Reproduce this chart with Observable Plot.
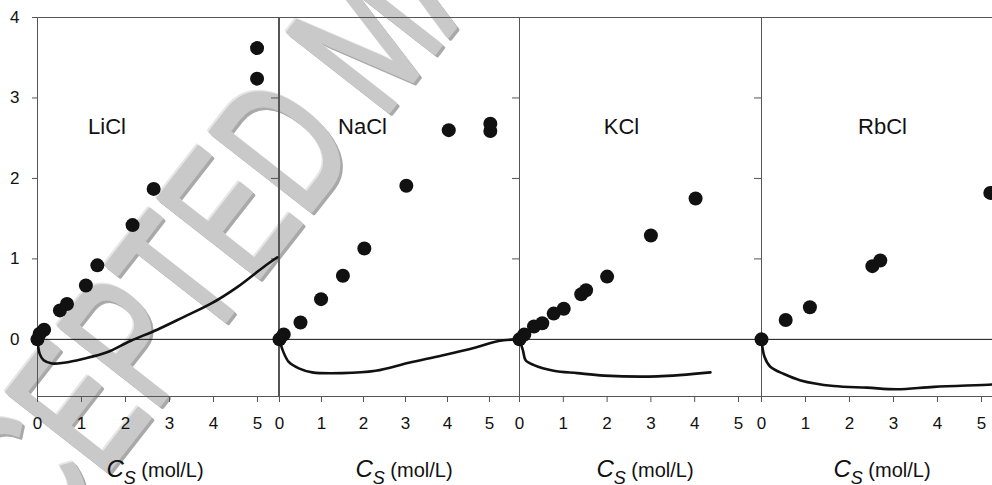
<!DOCTYPE html>
<html><head><meta charset="utf-8">
<script src="https://cdn.jsdelivr.net/npm/d3@7"></script>
<script src="https://cdn.jsdelivr.net/npm/@observablehq/plot@0.6"></script>
<style>
html,body{margin:0;padding:0;background:#fff;}
#root{position:relative;width:992px;height:485px;overflow:hidden;font-family:"Liberation Sans",Arial,sans-serif;}
#root > svg{position:absolute;top:0;}
</style></head><body><div id="root"></div>
<script>
// ---- data ----
const salts = ["LiCl", "NaCl", "KCl", "RbCl"];
const xTickValues = [0, 1, 2, 3, 4, 5];
const yTickValues = [0, 1, 2, 3, 4];
const rightTickValues = [1, 2, 3];
const axisLabelMain = "C";
const axisLabelSub = "S";
const axisLabelUnit = " (mol/L)";
const watermark = "ACCEPTED MANUSCRIPT";

const liclX = [0, 0.05, 0.15, 0.51, 0.67, 1.1, 1.36, 2.16, 2.64, 4.99, 4.99];
const liclY = [0, 0.07, 0.12, 0.36, 0.44, 0.67, 0.92, 1.42, 1.87, 3.24, 3.62];
const liclCurveX = [0, 0.05, 0.14, 0.33, 0.6, 1.05, 1.58, 2.11, 2.72, 3.33, 3.93, 4.54, 5.14, 5.45];
const liclCurveY = [0, -0.18, -0.26, -0.30, -0.29, -0.24, -0.16, -0.02, 0.12, 0.28, 0.44, 0.65, 0.90, 1.02];

const naclX = [0, 0.1, 0.5, 0.99, 1.51, 2.02, 3.02, 4.03, 5.02, 5.02];
const naclY = [0, 0.06, 0.21, 0.5, 0.79, 1.13, 1.91, 2.6, 2.68, 2.59];
const naclCurveX = [0, 0.08, 0.22, 0.46, 0.78, 1.49, 2.29, 3.08, 3.87, 4.67, 5.22, 5.62];
const naclCurveY = [0, -0.14, -0.28, -0.36, -0.41, -0.42, -0.39, -0.29, -0.20, -0.10, -0.02, 0.0];

const kclX = [0, 0.11, 0.33, 0.52, 0.78, 1.01, 1.41, 1.52, 2.0, 3.0, 4.02];
const kclY = [0, 0.06, 0.16, 0.2, 0.32, 0.38, 0.56, 0.61, 0.78, 1.29, 1.75];
const kclCurveX = [0, 0.08, 0.14, 0.33, 0.78, 1.32, 1.93, 3.14, 4.36];
const kclCurveY = [0, -0.14, -0.26, -0.32, -0.39, -0.42, -0.45, -0.46, -0.41];

const rbclX = [0, 0.55, 1.1, 2.52, 2.7, 5.2];
const rbclY = [0, 0.24, 0.4, 0.91, 0.98, 1.82];
const rbclCurveX = [0, 0.07, 0.2, 0.51, 0.89, 1.64, 2.4, 3.08, 3.92, 5.25, 5.5];
const rbclCurveY = [0, -0.22, -0.34, -0.43, -0.51, -0.58, -0.60, -0.62, -0.59, -0.56, -0.55];

const pointsX = [liclX, naclX, kclX, rbclX];
const pointsY = [liclY, naclY, kclY, rbclY];
const curvesX = [liclCurveX, naclCurveX, kclCurveX, rbclCurveX];
const curvesY = [liclCurveY, naclCurveY, kclCurveY, rbclCurveY];

// ---- layout ----
const frameLeft = [37, 279, 519, 761];
const frameRight = [278, 519, 761, 1003];
const pxPerUnit = [44, 42, 43.8, 44];
const titleDx = [-51, -37, -19, 0];
const labelCenter = [155, 404, 645, 882];
const font = '"Liberation Sans", Arial, Helvetica, sans-serif';

const root = d3.select("#root");

// watermark (beneath everything)
const wm = root.append("svg").attr("width", 992).attr("height", 485).style("left", "0px");
[["#a9a9a9", 2.5, 2.5], ["#e6e6e6", -1.5, -1.5], ["#c9c9c9", 0, 0]].forEach(([col, ox, oy]) => {
  wm.append("text")
    .attr("transform", `translate(${-63 + ox},${690 + oy}) rotate(-52) scale(0.68,1)`)
    .attr("font-family", font)
    .attr("font-size", 186)
    .attr("fill", col)
    .attr("stroke", col)
    .attr("stroke-width", 4)
    .attr("stroke-linejoin", "round")
    .text(watermark);
});

salts.forEach((name, i) => {
  const W = frameRight[i] - frameLeft[i];
  const mL = i === 0 ? 37 : 12, mR = 12;
  const pts = pointsX[i].map((x, k) => ({x, y: pointsY[i][k]}));
  const crv = curvesX[i].map((x, k) => ({x, y: curvesY[i][k]}));
  const plot = Plot.plot({
    width: W + mL + mR, height: 485,
    marginLeft: mL, marginRight: mR, marginTop: 17, marginBottom: 89,
    x: {domain: [0, W / pxPerUnit[i]], axis: null},
    y: {domain: [-0.71, 4], axis: null},
    style: {background: "transparent", fontFamily: font, fontSize: "17px", color: "#111", overflow: "visible"},
    marks: [
      Plot.frame({stroke: "#555", strokeWidth: 1}),
      Plot.ruleY([0], {stroke: "#111", strokeWidth: 1}),
      Plot.tickY(rightTickValues, {y: d => d, insetLeft: W - 7, stroke: "#555"}),
      i === 0 ? Plot.axisY(yTickValues, {anchor: "left", tickSize: 5, tickPadding: 13, label: null, stroke: "#555", tickFormat: d => String(d)}) : null,
      Plot.axisX(xTickValues, {anchor: "bottom", tickSize: 6, tickPadding: 14, label: null, stroke: "#555", tickFormat: d => String(d)}),
      Plot.line(crv, {x: "x", y: "y", stroke: "#111", strokeWidth: 2.6, curve: "catmull-rom"}),
      Plot.dot(pts, {x: "x", y: "y", r: 7, fill: "#111", stroke: "none"}),
      Plot.text([name], {frameAnchor: "top", lineAnchor: "middle", dx: titleDx[i], dy: 109, fontSize: 22, fill: "#111"})
    ]
  });
  plot.style.left = (frameLeft[i] - mL) + "px";
  root.node().appendChild(plot);
});

// x axis labels with subscript
const ov = root.append("svg").attr("width", 992).attr("height", 485).style("left", "0px");
salts.forEach((name, i) => {
  const t = ov.append("text").attr("x", labelCenter[i]).attr("y", 477)
    .attr("text-anchor", "middle").attr("font-family", font).attr("fill", "#111");
  t.append("tspan").attr("font-style", "italic").attr("font-size", 24).text(axisLabelMain);
  t.append("tspan").attr("font-style", "italic").attr("font-size", 18).attr("dy", 7).text(axisLabelSub);
  t.append("tspan").attr("font-size", 20).attr("dy", -7).text(axisLabelUnit);
});
</script></body></html>
